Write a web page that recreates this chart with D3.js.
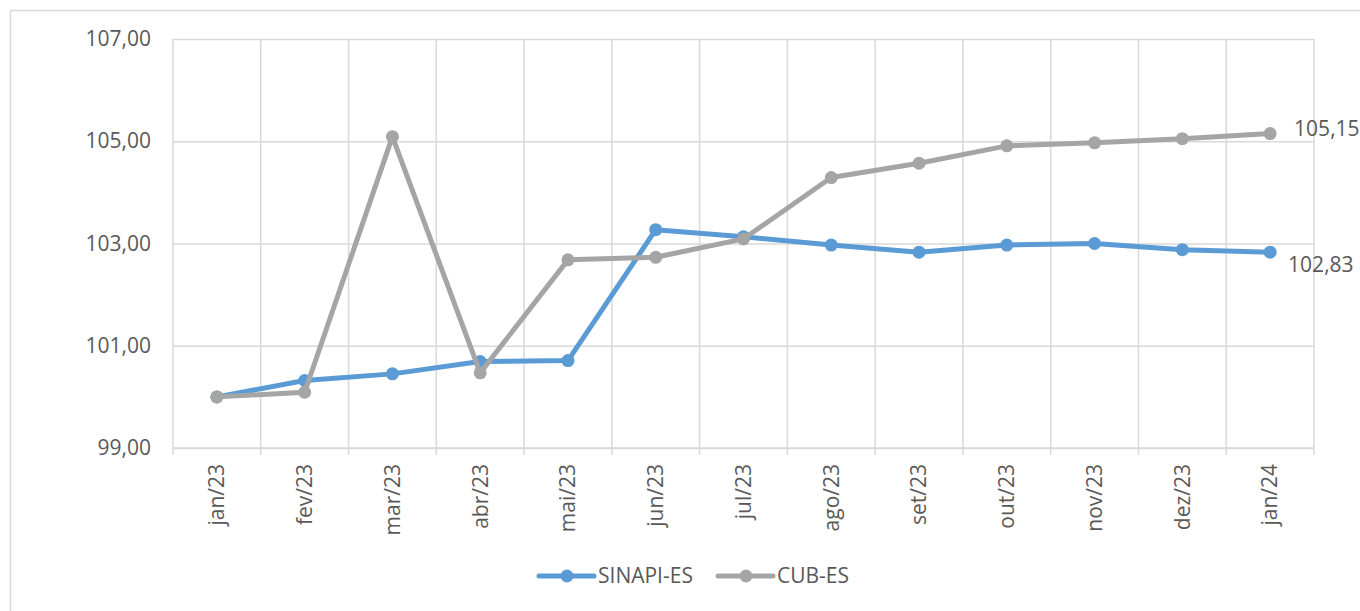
<!DOCTYPE html>
<html>
<head>
<meta charset="utf-8">
<script src="https://cdn.jsdelivr.net/npm/d3@7"></script>
<style>
  body { margin: 0; background: #fff; }
  svg text { font-family: "Open Sans", sans-serif; fill: #595959; }
</style>
</head>
<body>
<div id="plot"></div>
<script>
// months + the two indices
const months = ["jan/23", "fev/23", "mar/23", "abr/23", "mai/23", "jun/23", "jul/23",
                "ago/23", "set/23", "out/23", "nov/23", "dez/23", "jan/24"];
const sinapi = [100.00, 100.32, 100.45, 100.69, 100.71, 103.27, 103.13, 102.97, 102.83, 102.97, 103.00, 102.88, 102.83];
const cub    = [100.00, 100.09, 105.09, 100.47, 102.68, 102.73, 103.09, 104.29, 104.57, 104.91, 104.97, 105.05, 105.15];
const yTicks = [99, 101, 103, 105, 107];

const series = [
  { name: "SINAPI-ES", values: sinapi, color: "#5B9BD5" },
  { name: "CUB-ES", values: cub, color: "#A5A5A5" }
];

const W = 1360, H = 611;
const margin = { top: 39, right: 46, bottom: 163, left: 173 },
      width = W - margin.left - margin.right,
      height = H - margin.top - margin.bottom;
const FS = 21;

const root = d3.select("#plot").append("svg")
    .attr("width", W)
    .attr("height", H);

// chart frame
root.append("rect")
    .attr("x", 10.5).attr("y", 10.5)
    .attr("width", W).attr("height", H)
    .attr("fill", "none")
    .attr("stroke", "#d9d9d9")
    .attr("stroke-width", 1.5);

const svg = root.append("g")
    .attr("transform", `translate(${margin.left},${margin.top})`);

const x = d3.scaleBand().domain(months).range([0, width]);
const y = d3.scaleLinear().domain([99, 107]).range([height, 0]);

const fmt = v => v.toFixed(2).replace(".", ",");

// horizontal grid + y labels
svg.append("g")
  .call(d3.axisLeft(y).tickValues(yTicks).tickSize(-width).tickFormat(fmt))
  .call(g => g.select(".domain").remove())
  .call(g => g.selectAll("line").attr("stroke", "#d9d9d9").attr("stroke-width", 1.5))
  .call(g => g.selectAll("text").attr("x", -22).attr("font-size", FS).attr("fill", "#595959"));

// vertical grid at band edges, continuing below axis as ticks
const edges = months.map(m => x(m)).concat([width]);
svg.append("g").selectAll("line")
  .data(edges)
  .join("line")
    .attr("x1", d => d).attr("x2", d => d)
    .attr("y1", 0).attr("y2", height + 7)
    .attr("stroke", "#d9d9d9")
    .attr("stroke-width", 1.5);

svg.append("line")
    .attr("x1", 0).attr("x2", width)
    .attr("y1", height).attr("y2", height)
    .attr("stroke", "#d9d9d9")
    .attr("stroke-width", 1.5);

// x labels rotated
svg.append("g").selectAll("text")
  .data(months)
  .join("text")
    .attr("transform", d => `translate(${x(d) + x.bandwidth() / 2},${height + 16}) rotate(-90)`)
    .attr("text-anchor", "end")
    .attr("dy", "0.35em")
    .attr("font-size", FS)
    .text(d => d);

const line = d3.line()
    .x((d, i) => x(months[i]) + x.bandwidth() / 2)
    .y(d => y(d));

// draw SINAPI first, CUB on top
series.forEach(s => {
  svg.append("path")
      .datum(s.values)
      .attr("fill", "none")
      .attr("stroke", s.color)
      .attr("stroke-width", 5)
      .attr("stroke-linejoin", "round")
      .attr("d", line);
  svg.append("g").selectAll("circle")
    .data(s.values)
    .join("circle")
      .attr("cx", (d, i) => x(months[i]) + x.bandwidth() / 2)
      .attr("cy", d => y(d))
      .attr("r", 6.5)
      .attr("fill", s.color);
});

// end labels
const lastX = x(months[months.length - 1]) + x.bandwidth() / 2;
svg.append("text")
    .attr("x", lastX + 24)
    .attr("y", y(cub[cub.length - 1]))
    .attr("dy", "0.1em")
    .attr("font-size", FS)
    .attr("fill", "#404040")
    .text(fmt(cub[cub.length - 1]));
svg.append("text")
    .attr("x", lastX + 18)
    .attr("y", y(sinapi[sinapi.length - 1]))
    .attr("dy", "0.95em")
    .attr("font-size", FS)
    .attr("fill", "#404040")
    .text(fmt(sinapi[sinapi.length - 1]));

// legend
const legend = root.append("g").attr("transform", "translate(0,576)");
const legX = [539, 718];
series.forEach((s, i) => {
  const g = legend.append("g").attr("transform", `translate(${legX[i]},0)`);
  g.append("line")
      .attr("x1", 0).attr("x2", 55)
      .attr("stroke", s.color).attr("stroke-width", 5)
      .attr("stroke-linecap", "round");
  g.append("circle").attr("cx", 28).attr("r", 6.5).attr("fill", s.color);
  g.append("text")
      .attr("x", 59)
      .attr("dy", "0.35em")
      .attr("font-size", FS)
      .text(s.name);
});
</script>
</body>
</html>
